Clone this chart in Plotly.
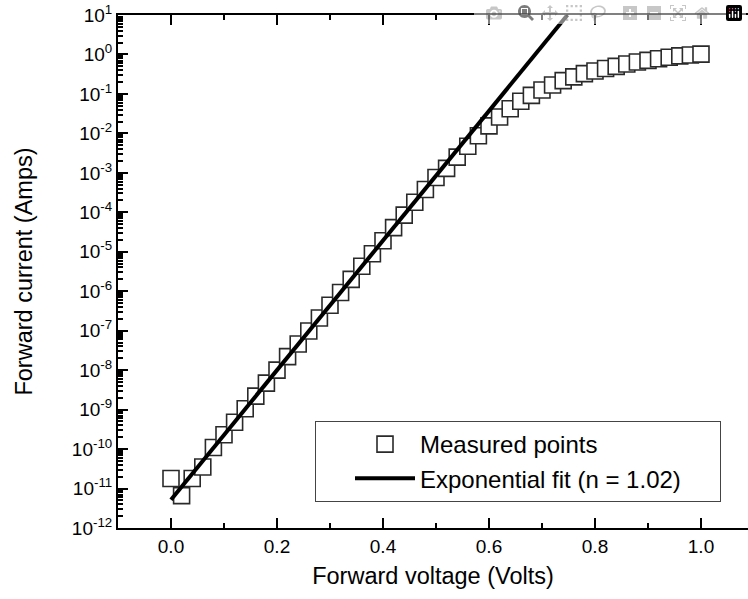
import plotly.graph_objects as go

# measured I-V points
voltage = [0.00, 0.02, 0.04, 0.06, 0.08, 0.10, 0.12, 0.14, 0.16, 0.18,
           0.20, 0.22, 0.24, 0.26, 0.28, 0.30, 0.32, 0.34, 0.36, 0.38,
           0.40, 0.42, 0.44, 0.46, 0.48, 0.50, 0.52, 0.54, 0.56, 0.58,
           0.60, 0.62, 0.64, 0.66, 0.68, 0.70, 0.72, 0.74, 0.76, 0.78,
           0.80, 0.82, 0.84, 0.86, 0.88, 0.90, 0.92, 0.94, 0.96, 0.98, 1.00]
current = [1.8e-11, 6.6e-12, 1.8e-11, 3.5e-11, 1.1e-10, 2.3e-10, 4.8e-10, 1.05e-9, 2.2e-9, 4.7e-9,
           1.0e-8, 2.2e-8, 4.6e-8, 9.8e-8, 2.1e-7, 4.4e-7, 9.3e-7, 2.0e-6, 4.3e-6, 8.9e-6,
           1.9e-5, 4.1e-5, 8.5e-5, 1.8e-4, 3.8e-4, 7.6e-4, 1.3e-3, 2.5e-3, 4.7e-3, 8.7e-3,
           1.55e-2, 2.6e-2, 4.2e-2, 6.5e-2, 9.2e-2, 0.126, 0.169, 0.217, 0.27, 0.327,
           0.38, 0.44, 0.50, 0.575, 0.645, 0.71, 0.78, 0.85, 0.92, 0.97, 1.02]

# exponential fit line end points
fit_voltage = [0.0, 0.748]
fit_current = [5.2e-12, 10.0]

x_ticks = [0.0, 0.2, 0.4, 0.6, 0.8, 1.0]
x_ticktext = ["0.0", "0.2", "0.4", "0.6", "0.8", "1.0"]
y_exponents = list(range(-12, 2))
y_ticks = [10.0 ** p for p in y_exponents]
y_ticktext = [f"10<sup>{p}</sup>" for p in y_exponents]
y_minor = [k * 10.0 ** p for p in range(-12, 1) for k in range(2, 10)]

FONT = "Liberation Sans, Arial, sans-serif"

fig = go.Figure()
fig.add_trace(go.Scatter(
    x=voltage, y=current, mode="markers", name="Measured points",
    marker=dict(symbol="square", size=16, color="white",
                line=dict(color="#2a2a2a", width=1.6))))
fig.add_trace(go.Scatter(
    x=fit_voltage, y=fit_current, mode="lines",
    name="Exponential fit (n = 1.02)" + "\u00a0" * 5,
    line=dict(color="black", width=4)))

frame = dict(ticks="inside", ticklen=10, tickwidth=2, tickcolor="black",
             showline=True, linecolor="black", linewidth=2,
             showgrid=False, zeroline=False, automargin=False)

fig.update_layout(
    width=748, height=599,
    margin=dict(l=118, r=0, t=15, b=71),
    paper_bgcolor="white", plot_bgcolor="white",
    font=dict(family=FONT, color="black"),
    showlegend=True,
    legend=dict(x=0.3127, y=0.2086, xanchor="left", yanchor="top",
                bgcolor="white", bordercolor="#444", borderwidth=1,
                font=dict(size=24, family=FONT), itemwidth=60, indentation=34,
                tracegroupgap=0),
    xaxis=dict(range=[-0.1, 1.0887], tickvals=x_ticks, ticktext=x_ticktext,
               mirror="ticks", ticklabeloverflow="allow",
               tickfont=dict(size=19),
               minor=dict(dtick=0.1, tick0=0, ticks="inside", ticklen=5,
                          tickwidth=2, tickcolor="black", showgrid=False),
               title=dict(text="Forward voltage (Volts)", font=dict(size=23.5),
                          standoff=12),
               **frame),
    yaxis=dict(type="log", range=[-12, 1], tickvals=y_ticks, ticktext=y_ticktext,
               mirror=False, ticklabeloverflow="allow",
               tickfont=dict(size=19),
               minor=dict(tickvals=y_minor, ticks="inside", ticklen=5,
                          tickwidth=1.5, tickcolor="black", showgrid=False),
               title=dict(text="Forward current (Amps)", font=dict(size=23.5),
                          standoff=33),
               **frame),
    # short major ticks along the right edge (the right frame line is off-page)
    yaxis2=dict(type="log", range=[-12, 1], overlaying="y", side="right",
                tickvals=y_ticks, ticks="inside", ticklen=4, tickwidth=2,
                tickcolor="black", showticklabels=False, showline=False,
                showgrid=False, zeroline=False, automargin=False),
)

# drop the default page margin so the figure starts at the window corner
fig.write_html("out.html",
               post_script="document.body.style.margin='0';"
                           "document.body.style.overflow='hidden';")
